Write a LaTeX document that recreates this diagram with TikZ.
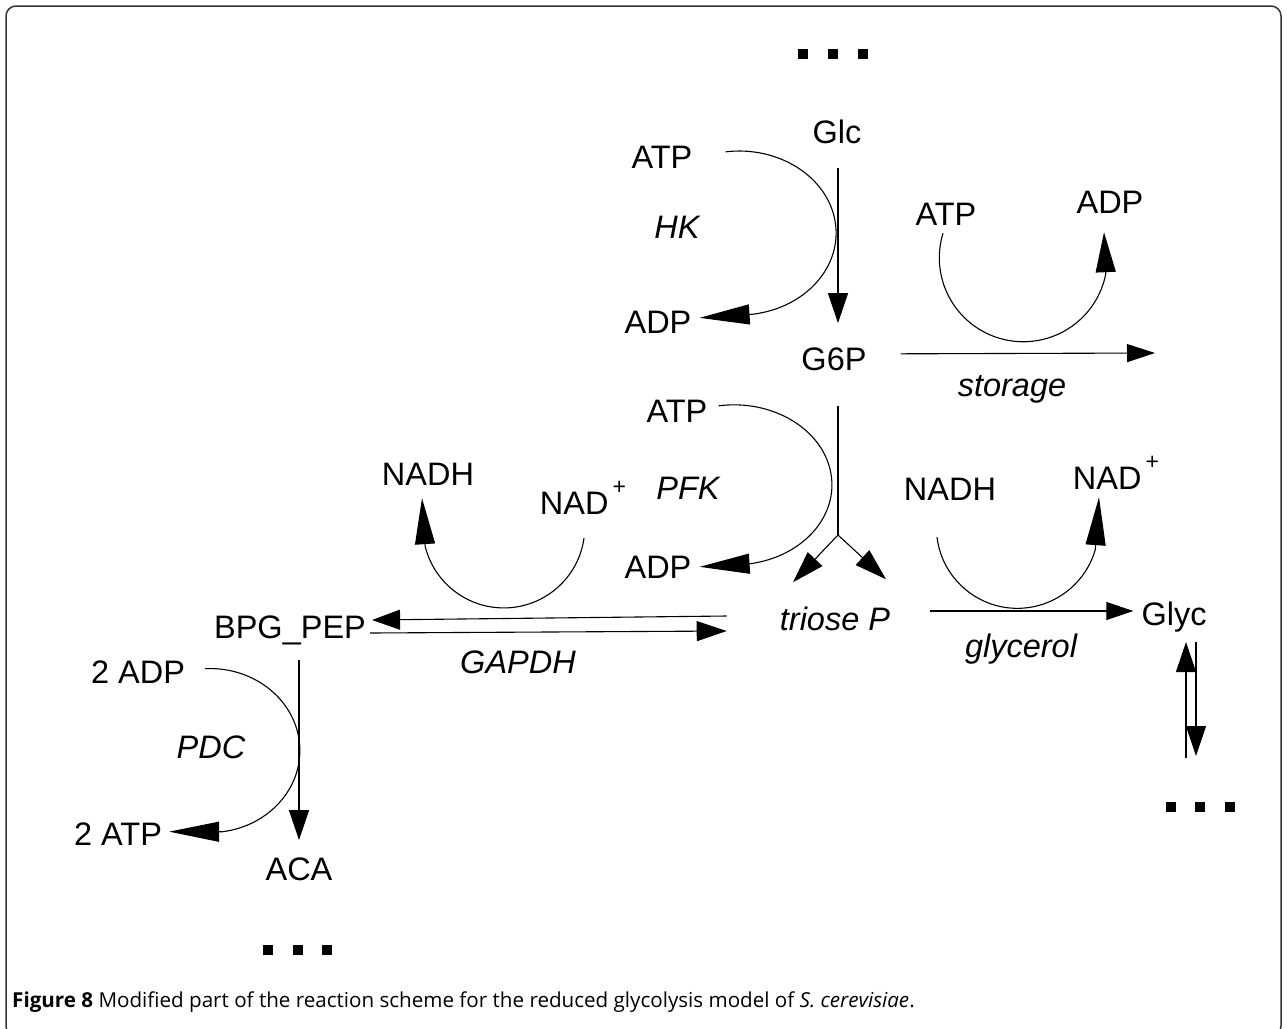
\documentclass[tikz,border=0pt]{standalone}
\usepackage{fontspec}
\setmainfont{Liberation Sans}
\newfontfamily\capfont{Open Sans}
\usetikzlibrary{arrows.meta}
\newcommand\plusup{\hspace{4pt}\raisebox{20pt}{\fontsize{23}{23}\selectfont +}}
\begin{document}
\begin{tikzpicture}[x=1pt,y=1pt,
  lab/.style={inner sep=0pt, anchor=base, font=\fontsize{32.5}{38}\selectfont},
  enz/.style={inner sep=0pt, anchor=base, font=\fontsize{32.5}{38}\selectfont\itshape},
  rx/.style={line width=1.1pt, draw=black},
  tipM/.style={-{Triangle[length=30pt,width=20pt]}},
  sq/.style={fill=black, minimum size=10.5pt, inner sep=0pt, rectangle}
]
\useasboundingbox (0,0) rectangle (1287,-1028);
\clip (0,0) rectangle (1287,-1028);
\fill[white] (0,0) rectangle (1287,-1028);
\draw[line width=1.5pt, black!80, rounded corners=10pt] (6,-6) rectangle (1281,-1036);

% dots
\node[sq] (d1) at (803,-54) {}; \node[sq] (d2) at (833,-54) {}; \node[sq] (d3) at (863,-54) {};
\node[sq] (e1) at (1171,-807) {}; \node[sq] (e2) at (1200,-807) {}; \node[sq] (e3) at (1230,-807) {};
\node[sq] (f1) at (268,-950) {}; \node[sq] (f2) at (298,-950) {}; \node[sq] (f3) at (327,-950) {};

% labels
\node[lab] (glc) at (837,-143) {Glc};
\node[lab] (g6p) at (834,-370) {G6P};
\node[lab] (atpHK) at (662,-168) {ATP};
\node[enz] (hk) at (677,-238) {HK};
\node[lab] (adpHK) at (658,-333) {ADP};
\node[lab] (atpSt) at (946,-225) {ATP};
\node[lab] (adpSt) at (1110,-213) {ADP};
\node[enz] (st) at (1012,-396) {storage};
\node[lab] (atpPFK) at (677,-422) {ATP};
\node[enz] (pfk) at (688,-499) {PFK};
\node[lab] (adpPFK) at (658,-578) {ADP};
\node[lab] (nadhL) at (428,-485) {NADH};
\node[lab] (nadL) at (583,-514) {NAD\plusup};
\node[lab] (nadhR) at (950,-500) {NADH};
\node[lab] (nadR) at (1116,-489) {NAD\plusup};
\node[enz] (tp) at (835,-630) {triose P};
\node[lab] (bpg) at (290,-638) {BPG\_PEP};
\node[enz] (gapdh) at (518,-673) {GAPDH};
\node[lab] (glyc) at (1174,-625) {Glyc};
\node[enz] (gly) at (1021,-657) {glycerol};
\node[lab] (adp2) at (138,-683) {2 ADP};
\node[enz] (pdc) at (211,-758) {PDC};
\node[lab] (atp2) at (118,-845) {2 ATP};
\node[lab] (aca) at (299,-880) {ACA};

% Glc -> G6P
\draw[rx, tipM] ([xshift=1pt,yshift=-24pt]glc.south) -- ([xshift=4pt,yshift=24pt]g6p.north);
% HK
\draw[rx, -{Triangle[length=50pt,width=20pt]}] ([xshift=33pt,yshift=5pt]atpHK.east)
  arc[start angle=98,end angle=-82,x radius=97,y radius=82] -- ([xshift=8pt,yshift=4pt]adpHK.east);
% PFK
\draw[rx, -{Triangle[length=50pt,width=20pt]}] ([xshift=11pt,yshift=5pt]atpPFK.east)
  arc[start angle=99,end angle=-80,x radius=98,y radius=80] -- ([xshift=8pt,yshift=0pt]adpPFK.east);
% G6P split to triose P
\coordinate (br) at (838,-535);
\draw[rx] ([xshift=4pt,yshift=-35pt]g6p.south) -- (br);
\draw[rx, -{Triangle[length=32pt,width=20pt]}] (br) -- ([xshift=-42pt,yshift=24pt]tp.north);
\draw[rx, -{Triangle[length=32pt,width=20pt]}] (br) -- ([xshift=51pt,yshift=27pt]tp.north);
% storage
\coordinate (stEnd) at (1155,-353);
\draw[rx, -{Triangle[length=28pt,width=18pt]}] ([xshift=34pt,yshift=5pt]g6p.east) -- (stEnd);
\draw[rx, -{Triangle[length=40pt,width=20pt]}] ([xshift=-3pt,yshift=-8pt]atpSt.south)
  arc[start angle=163,end angle=349,radius=84] -- ([xshift=-6pt,yshift=-19pt]adpSt.south);
% NAD left (GAPDH)
\draw[rx, -{Triangle[length=46pt,width=20pt]}] ([xshift=1pt,yshift=-24pt]nadL.south)
  arc[start angle=-8,end angle=-166,radius=81] -- ([xshift=-6pt,yshift=-13pt]nadhL.south);
% NADH right (glycerol)
\draw[rx, -{Triangle[length=48pt,width=20pt]}] ([xshift=-13pt,yshift=-37pt]nadhR.south)
  arc[start angle=187,end angle=344,radius=81] -- ([xshift=-17pt,yshift=-8pt]nadR.south);
% glycerol arrow
\draw[rx, -{Triangle[length=27pt,width=18pt]}] ([xshift=40pt,yshift=19pt]tp.base east) -- ([xshift=-8pt,yshift=14pt]glyc.base west);
% Glyc exchange
\coordinate (gOutL) at (1186,-758);
\coordinate (gOutR) at (1196,-756);
\draw[rx, tipM] (gOutL) -- ([xshift=12pt,yshift=-17pt]glyc.base);
\draw[rx, tipM] ([xshift=22pt,yshift=-17pt]glyc.base) -- (gOutR);
% GAPDH double arrows
\draw[rx, -{Triangle[length=28pt,width=20pt]}] ([xshift=-53pt,yshift=14pt]tp.base west) -- ([xshift=6pt,yshift=18pt]bpg.base east);
\draw[rx, -{Triangle[length=30pt,width=20pt]}] ([xshift=4pt,yshift=5pt]bpg.base east) -- ([xshift=-53pt,yshift=-1pt]tp.base west);
% BPG_PEP -> ACA
\draw[rx, tipM] ([xshift=9pt,yshift=-22pt]bpg.base) -- ([yshift=17pt]aca.north);
% PDC
\draw[rx, -{Triangle[length=50pt,width=20pt]}] ([xshift=20pt,yshift=3pt]adp2.east)
  arc[start angle=93,end angle=-82,x radius=90,y radius=82] -- ([xshift=7pt,yshift=2pt]atp2.east);

% caption
\node[anchor=base west, inner sep=0pt, font=\capfont\fontsize{20.6}{22}\selectfont] (cap) at (12,-1007)
  {\textbf{Figure 8} Modified part of the reaction scheme for the reduced glycolysis model of \textit{S. cerevisiae}.};
\end{tikzpicture}
\end{document}
